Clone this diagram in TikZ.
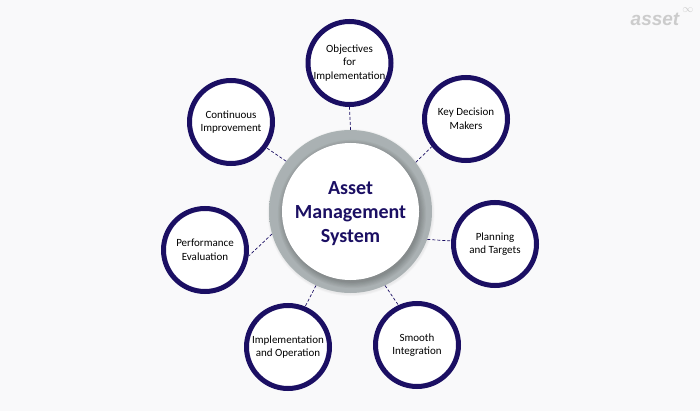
\documentclass[tikz,border=0pt]{standalone}
\usepackage{fontspec}
\setmainfont{Carlito}
\newfontfamily\logofont{Liberation Sans}
\usetikzlibrary{positioning}
\definecolor{navy}{HTML}{1B0F63}
\definecolor{pagegray}{HTML}{F9F9FA}
\definecolor{ringgray}{HTML}{A1A9AB}
\tikzset{
    goal/.style={circle, draw=navy, line width=5pt, fill=white, minimum size=83pt, inner sep=0pt,
        align=center, text=black, font=\fontsize{11}{13.5}\selectfont},
    ring/.style={circle, minimum size=163pt, inner sep=0pt},
    core/.style={circle, fill=white, minimum size=137pt, inner sep=0pt},
    corelabel/.style={align=center, text=navy, font=\fontsize{20}{24}\selectfont\bfseries},
    link/.style={draw=navy, line width=0.7pt, densely dashed},
}
\begin{document}
\begin{tikzpicture}[x=1pt, y=-1pt]
\fill[pagegray] (0,0) rectangle (700,411);
\useasboundingbox (0,0) rectangle (700,411);

    % soft edge under the ring
    \foreach \i in {1,2,3}
    \fill [black, opacity=0.02] (351,212.5) circle ({81.5+\i*0.7});

    \node[ring, shade, inner color=ringgray, outer color=ringgray!90!white] (main) at (350.5,211.5) {};

    % shadow of the white disc on the ring
    \foreach \i in {1,...,6}
    \fill [black, opacity=0.035] (352,214) circle ({67.5+\i*1.1});

    \node[core] (hub) at (350.5,211.5) {};
    \node[corelabel] (hublabel) at (350.5,213.5) {Asset\\Management\\System};

    \foreach \nname/\px/\py/\ntext in {
        objectives/349.5/63/{Objectives\\for\\Implementation},
        keymakers/466/119/{Key Decision\\Makers},
        planning/495/244/{Planning\\and Targets},
        smooth/417/345/{Smooth\\Integration},
        operation/288/347/{Implementation\\and Operation},
        performance/205/250/{Performance\\Evaluation},
        improvement/231/122/{Continuous\\Improvement}}
    \node[goal] (\nname) at (\px,\py) {\ntext};

    \foreach \from/\nname/\to in {90/objectives/270, 37/keymakers/219, -20/planning/176,
        -65/smooth/115, -115/operation/67, 196/performance/-8, 142/improvement/-36}
    \draw [link] (main.\from) -- (\nname.\to);

    \node[text=black!20, font=\logofont\fontsize{19}{19}\selectfont\bfseries\itshape] (logo) at (655,19) {asset};
    \node[text=black!20, font=\fontsize{11}{11}\selectfont, right=-4pt of logo.north east, yshift=-1pt] (logomark) {$\infty$};
\end{tikzpicture}
\end{document}
